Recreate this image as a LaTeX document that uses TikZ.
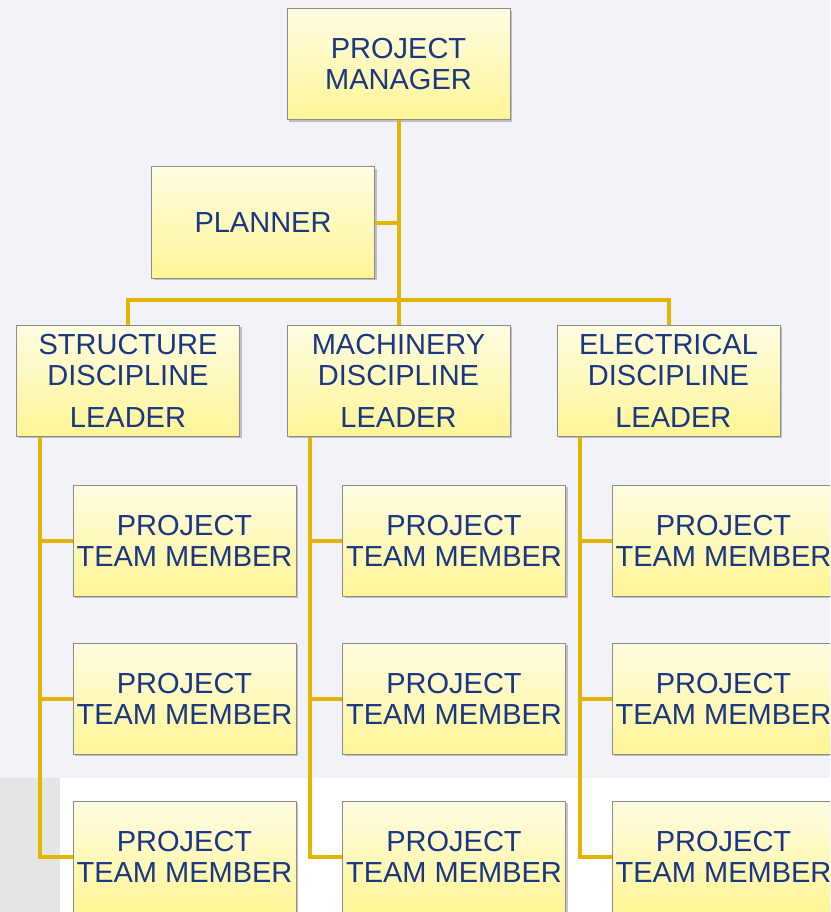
\documentclass[tikz,border=0pt]{standalone}
\usepackage{fontspec}
\setmainfont{Liberation Sans}
\usetikzlibrary{shadows}
\definecolor{pagebg}{RGB}{242,243,248}
\definecolor{cornergray}{RGB}{229,229,229}
\definecolor{boxtop}{RGB}{255,252,226}
\definecolor{boxbottom}{RGB}{255,245,150}
\definecolor{boxline}{RGB}{140,140,140}
\definecolor{inkblue}{RGB}{25,55,130}
\definecolor{linkgold}{RGB}{226,182,0}

\begin{document}
\begin{tikzpicture}[x=1pt, y=-1pt,
    role/.style={draw=boxline, line width=1pt, top color=boxtop, bottom color=boxbottom,
      minimum width=223pt, minimum height=111pt, inner sep=0pt, align=center,
      text=inkblue, font=\fontsize{29}{31}\selectfont,
      drop shadow={shadow xshift=2pt, shadow yshift=-2pt, opacity=0.45}},
    link/.style={draw=linkgold, line width=4pt}]
        % Page and backdrop
        \clip (0,0) rectangle (830,912);
        \fill[pagebg] (0,0) rectangle (830,778);
        \fill[cornergray] (0,778) rectangle (60,912);
        \fill[white] (60,778) rectangle (830,912);

        % Manager and planner
        \node[role] (pm) at (398.5,64.5) {PROJECT\\MANAGER};
        \node[role] (planner) at (263,222.5) {PLANNER};
        \coordinate (bus) at (398.5,300);

        % Discipline leaders
        \node[role] (sdl) at (128,380.5) {STRUCTURE\\DISCIPLINE\\[11pt]LEADER};
        \node[role] (mdl) at (398.5,380.5) {MACHINERY\\DISCIPLINE\\[11pt]LEADER};
        \node[role] (edl) at (668.5,380.5) {ELECTRICAL\\DISCIPLINE\\[11pt]\,\,LEADER};

        % Team members
        \foreach \lead/\cx [count=\c] in {sdl/184.5, mdl/454, edl/723.5} {
          \coordinate (\lead x) at ([xshift=23.5pt]\lead.south west);
          \foreach \cy [count=\r] in {540.5, 698.5, 856.5}
            \node[role] (tm\c\r) at (\cx,\cy) {PROJECT\\TEAM MEMBER};
        }

        % Connectors
        \draw[link] (pm.south) -- (bus);
        \draw[link] (planner.east) -- (planner.east -| pm.south);
        \draw[link] (sdl.north) |- (bus) -| (edl.north);
        \draw[link] (bus) -- (mdl.north);
        \foreach \lead [count=\c] in {sdl, mdl, edl} {
          \draw[link] (\lead x) |- (tm\c3.west);
          \foreach \r in {1,2}
            \draw[link] (tm\c\r.west) -- (tm\c\r.west -| \lead x);
        }
\end{tikzpicture}
\end{document}
